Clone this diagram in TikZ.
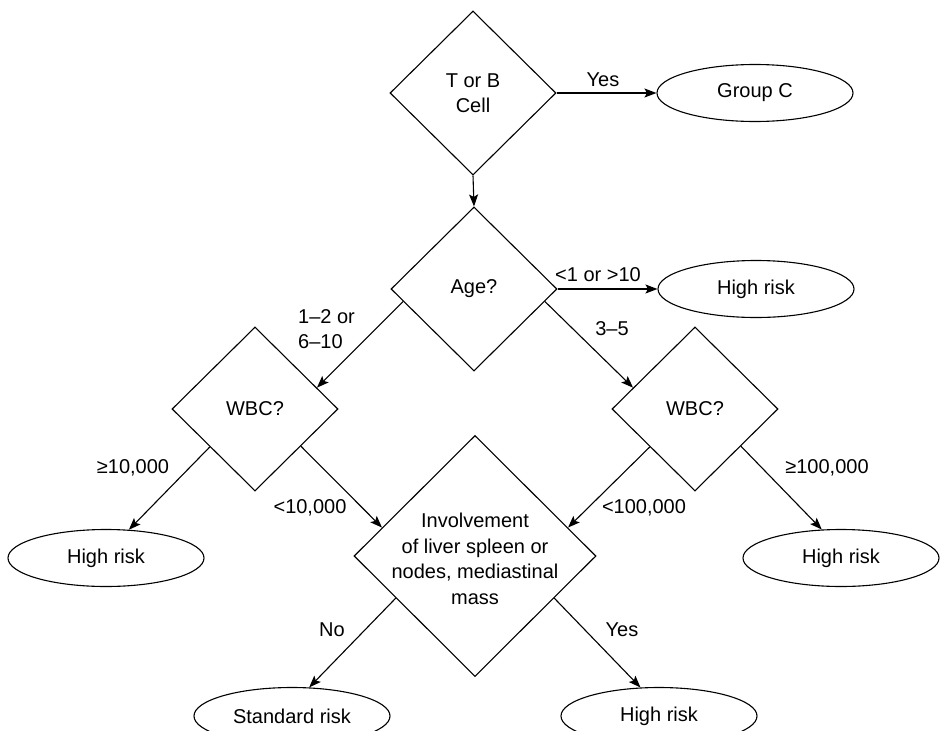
\documentclass[tikz,border=0pt]{standalone}
\usepackage{fontspec}
\setmainfont{Liberation Sans}
\usepackage{tikz}
\usetikzlibrary{arrows.meta,positioning,shapes.geometric}

\begin{document}
\begin{tikzpicture}[x=1pt,y=-1pt,
    every node/.style={font=\fontsize{20}{25.5}\selectfont},
    dia/.style={draw,shape=diamond,line width=1.1pt,inner sep=0pt,minimum width=166pt,minimum height=164pt,align=center},
    oval/.style={draw,shape=ellipse,line width=1.1pt,inner sep=0pt,minimum width=196pt,minimum height=57pt},
    lbl/.style={inner sep=0pt,align=center},
    arr/.style={-{Stealth[length=12pt,width=9pt,inset=2.5pt]},line width=1.1pt}]
      \useasboundingbox (0,0) rectangle (940,731);
      % decision nodes
      \node[dia] (tcell) at (473,93) {T or B\\Cell};
      \node[dia] (age) at (474,289) {Age?};
      \node[dia] (wbcleft) at (255,409) {WBC?};
      \node[dia] (wbcright) at (695,409) {WBC?};
      \node[dia,minimum width=242pt,minimum height=241pt] (organs) at (475,556) {};
      \node[lbl] (organstext) at (475,559) {Involvement\\of liver spleen or\\nodes, mediastinal\\mass};
      % outcomes
      \node[oval] (groupc) at (755,93) {Group C};
      \node[oval] (highage) at (756,289) {High risk};
      \node[oval] (highwbcl) at (106,558) {High risk};
      \node[oval] (highwbcr) at (841,558) {High risk};
      \node[oval] (standard) at (292,716) {Standard risk};
      \node[oval] (highorg) at (659,716) {High risk};
      % connectors
      \draw[arr] (tcell.east) -- (groupc.west);
      \draw[arr] (tcell.south) -- (age.north);
      \draw[arr] (age.east) -- (highage.west);
      \draw[arr] (age.190) -- (wbcleft.19);
      \draw[arr] (age.350) -- (wbcright.161);
      \draw[arr] (wbcleft.220) -- (highwbcl.51);
      \draw[arr] (wbcleft.321) -- (organs.163);
      \draw[arr] (wbcright.220) -- (organs.17);
      \draw[arr] (wbcright.321) -- (highwbcr.124);
      \draw[arr] (organs.208) -- (standard.59);
      \draw[arr] (organs.332) -- (highorg.123);
      % branch labels
      \node[lbl] (yestop) at (603,80) {Yes};
      \node[lbl] (agehigh) at (598,275) {<1 or >10};
      \node[lbl,anchor=west,align=left] (ageleft) at (298,329) {1–2 or\\6–10};
      \node[lbl] (ageright) at (612,329) {3–5};
      \node[lbl] (geten) at (133,468) {≥10,000};
      \node[lbl] (ltten) at (310,508) {<10,000};
      \node[lbl] (lthundred) at (644,508) {<100,000};
      \node[lbl] (gethundred) at (827,468) {≥100,000};
      \node[lbl] (orgno) at (332,630) {No};
      \node[lbl] (orgyes) at (622,630) {Yes};
    \end{tikzpicture}
\end{document}
